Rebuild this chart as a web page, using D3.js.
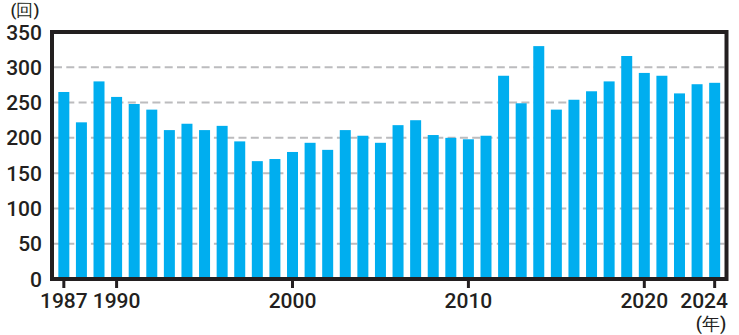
<!DOCTYPE html>
<html>
<head>
<meta charset="utf-8">
<script src="https://cdn.jsdelivr.net/npm/d3@7/dist/d3.min.js"></script>
<style>
  html, body { margin: 0; padding: 0; background: #fff; }
  svg { display: block; }
  text { font-family: Roboto, "Liberation Sans", sans-serif; fill: #231f20; }
</style>
</head>
<body>
<svg id="chart" width="739" height="335"></svg>
<script>
// Annual counts, 1987–2024
const years = d3.range(1987, 2025);
const counts = [265, 222, 280, 258, 248, 240, 211, 220, 211, 217, 195,
                167, 170, 180, 193, 183, 211, 203, 193, 218, 225, 204, 200, 198, 203,
                288, 249, 330, 240, 254, 266, 280, 316, 292, 288, 263, 276, 278];
const yTicks = [0, 50, 100, 150, 200, 250, 300, 350];
const gridValues = [50, 100, 150, 200, 250, 300];
const xTickYears = [1987, 1990, 2000, 2010, 2020, 2024];
const yUnit = "(回)";
const xUnit = "(年)";

(function () {
const svg = d3.select("#chart");
const plotLeft = 52, plotRight = 726.5, plotTop = 32, plotBottom = 279;

const x = d3.scaleBand()
  .domain(years)
  .range([plotLeft, plotRight])
  .paddingInner(0.375)
  .paddingOuter(0.36);

const y = d3.scaleLinear().domain([0, 350]).range([plotBottom, plotTop]);

// dashed gridlines behind bars
svg.append("g")
  .selectAll("line")
  .data(gridValues)
  .join("line")
  .attr("x1", plotLeft + 2)
  .attr("x2", plotRight - 2)
  .attr("y1", d => y(d))
  .attr("y2", d => y(d))
  .attr("stroke", "#bcbcbe")
  .attr("stroke-width", 2)
  .attr("stroke-dasharray", "8,4.3");

// bars
svg.append("g")
  .selectAll("rect")
  .data(years.map((yr, i) => ({ yr, v: counts[i] })))
  .join("rect")
  .attr("x", d => x(d.yr))
  .attr("width", x.bandwidth())
  .attr("y", d => y(d.v))
  .attr("height", d => y(0) - y(d.v))
  .attr("fill", "#00aeef");

// frame
svg.append("rect")
  .attr("x", plotLeft)
  .attr("y", plotTop)
  .attr("width", plotRight - plotLeft)
  .attr("height", plotBottom - plotTop)
  .attr("fill", "none")
  .attr("stroke", "#231f20")
  .attr("stroke-width", 4);

// y axis labels
svg.append("g")
  .selectAll("text")
  .data(yTicks)
  .join("text")
  .attr("x", 42)
  .attr("y", d => y(d) + 2)
  .attr("text-anchor", "end")
  .attr("dominant-baseline", "middle")
  .attr("font-size", 21)
  .attr("font-weight", 500)
  .text(d => d);

// x ticks and labels
const xc = d => x(d) + x.bandwidth() / 2;
svg.append("g")
  .selectAll("line")
  .data(xTickYears)
  .join("line")
  .attr("x1", xc).attr("x2", xc)
  .attr("y1", plotBottom).attr("y2", 288)
  .attr("stroke", "#231f20")
  .attr("stroke-width", 3);

svg.append("g")
  .selectAll("text")
  .data(xTickYears)
  .join("text")
  .attr("x", (d, i) => i === xTickYears.length - 1 ? 728 : xc(d))
  .attr("y", 308)
  .attr("text-anchor", (d, i) => i === xTickYears.length - 1 ? "end" : "middle")
  .attr("font-size", 21)
  .attr("font-weight", 500)
  .text(d => d);

// unit labels
svg.append("text")
  .attr("x", 25).attr("y", 16)
  .attr("text-anchor", "middle")
  .attr("font-size", 17)
  .attr("font-family", "'Noto Sans CJK JP', sans-serif")
  .attr("font-weight", 500)
  .text(yUnit);

svg.append("text")
  .attr("x", 711).attr("y", 330)
  .attr("text-anchor", "middle")
  .attr("font-size", 18)
  .attr("font-family", "'Noto Sans CJK JP', sans-serif")
  .attr("font-weight", 500)
  .text(xUnit);
})();
</script>
</body>
</html>
